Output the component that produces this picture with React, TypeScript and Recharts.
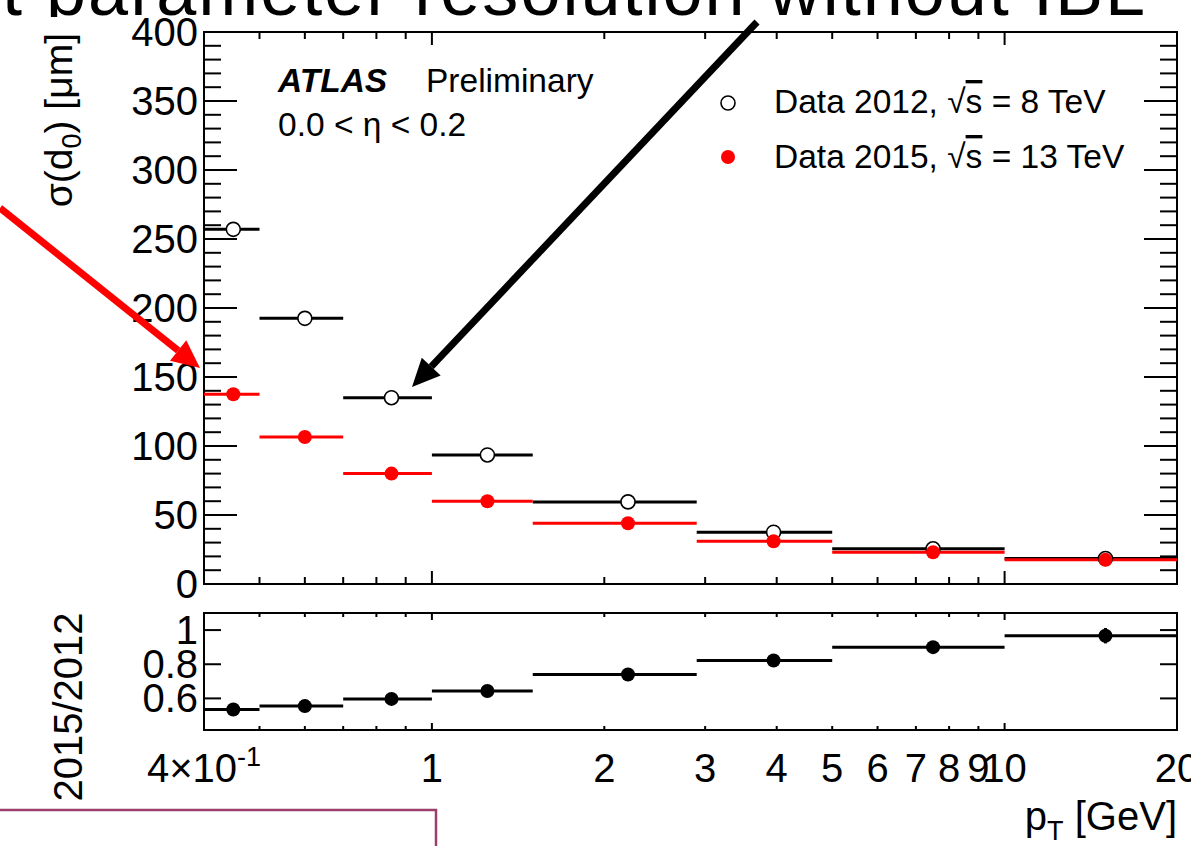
import React from 'react';
import { ComposedChart, Scatter, ErrorBar, XAxis, YAxis, ReferenceArea } from 'recharts';

// ---- data ----
const binLow = [0.4, 0.5, 0.7, 1.0, 1.5, 2.9, 5, 10];
const binHigh = [0.5, 0.7, 1.0, 1.5, 2.9, 5, 10, 20];
const sigma2012 = [257, 192.5, 135, 93.5, 59.5, 37.5, 25.5, 18.5];
const sigma2015 = [137.5, 106.5, 80, 60, 44, 31, 23, 17.5];
const ratio2015over2012 = [0.535, 0.555, 0.597, 0.643, 0.74, 0.822, 0.9, 0.967];
const ratioErr = [0.004, 0.004, 0.005, 0.006, 0.006, 0.01, 0.015, 0.045];

const xTicks = [0.4, 0.5, 0.6, 0.7, 0.8, 0.9, 1, 2, 3, 4, 5, 6, 7, 8, 9, 10, 20];
const xMajorTicks = [1, 10];
const xLabelTicks = [0.4, 1, 2, 3, 4, 5, 6, 7, 8, 9, 10, 20];
const yTicks = [0, 10, 20, 30, 40, 50, 60, 70, 80, 90, 100, 110, 120, 130, 140, 150, 160, 170, 180, 190, 200,
  210, 220, 230, 240, 250, 260, 270, 280, 290, 300, 310, 320, 330, 340, 350, 360, 370, 380, 390, 400];
const yLabelTicks = [0, 50, 100, 150, 200, 250, 300, 350, 400];
const ratioTicks = [0.6, 0.8, 1];
const ratioTickLabels = ['0.6', '0.8', '1'];

const legendLabels = ['Data 2012, ', 'Data 2015, '];
const legendEnergies = [' = 8 TeV', ' = 13 TeV'];

// ---- tables built from the arrays ----
const binCenter = binLow.map((lo, i) => (lo + binHigh[i]) / 2);
const binHalf = binLow.map((lo, i) => (binHigh[i] - lo) / 2);
const data2012 = binCenter.map((x, i) => ({ x, y: sigma2012[i], xErr: binHalf[i] }));
const data2015 = binCenter.map((x, i) => ({ x, y: sigma2015[i], xErr: binHalf[i] }));
const dataRatio = binCenter.map((x, i) => ({ x, y: ratio2015over2012[i], xErr: binHalf[i], yErr: ratioErr[i] }));

// ---- layout ----
const FONT = "'Liberation Sans', Arial, Helvetica, sans-serif";
const W = 1191;
const PL = 204;
const PR = 1177;
const MAIN_H = 600;
const MAIN_TOP = 32;
const MAIN_BOTTOM = 584;
const R_OFF = 590;
const R_H = 256;
const R_TOP = 613 - R_OFF;
const R_BOTTOM = 730 - R_OFF;
const TICK_FS = 40;
const TEXT_FS = 33.5;

const MainYTick = (props: any) => {
  const { y, payload } = props;
  const v = payload.value;
  const major = yLabelTicks.includes(v);
  const len = major ? 33 : 17;
  return (
    <g>
      <line x1={PL} x2={PL + len} y1={y} y2={y} stroke="#000" strokeWidth={2} />
      <line x1={PR} x2={PR - len} y1={y} y2={y} stroke="#000" strokeWidth={2} />
      {major && (
        <text x={PL - 6} y={y + 14} textAnchor="end" fontSize={TICK_FS} fontFamily={FONT} fill="#000">
          {v}
        </text>
      )}
    </g>
  );
};

const MainXTick = (props: any) => {
  const { x, payload } = props;
  const v = payload.value;
  if (v === 0.4 || v === 20) return <g />;
  const len = xMajorTicks.includes(v) ? 13 : 7;
  return (
    <g>
      <line x1={x} x2={x} y1={MAIN_BOTTOM} y2={MAIN_BOTTOM - len} stroke="#000" strokeWidth={2} />
      <line x1={x} x2={x} y1={MAIN_TOP} y2={MAIN_TOP + len} stroke="#000" strokeWidth={2} />
    </g>
  );
};

const RatioXTick = (props: any) => {
  const { x, payload } = props;
  const v = payload.value;
  const edge = v === 0.4 || v === 20;
  const len = xMajorTicks.includes(v) ? 7 : 4;
  const labelY = R_BOTTOM + 52;
  let label: any = null;
  if (xLabelTicks.includes(v)) {
    if (v === 0.4) {
      label = (
        <text x={x} y={labelY} textAnchor="middle" fontSize={TICK_FS} fontFamily={FONT} fill="#000">
          4×10<tspan dy={-16} fontSize={27}>-1</tspan>
        </text>
      );
    } else {
      label = (
        <text x={x} y={labelY} textAnchor="middle" fontSize={TICK_FS} fontFamily={FONT} fill="#000">
          {String(v)}
        </text>
      );
    }
  }
  return (
    <g>
      {!edge && <line x1={x} x2={x} y1={R_BOTTOM} y2={R_BOTTOM - len} stroke="#000" strokeWidth={2} />}
      {!edge && <line x1={x} x2={x} y1={R_TOP} y2={R_TOP + len} stroke="#000" strokeWidth={2} />}
      {label}
    </g>
  );
};

const RatioYTick = (props: any) => {
  const { y, payload } = props;
  const v = payload.value;
  const idx = ratioTicks.indexOf(v);
  return (
    <g>
      <line x1={PL} x2={PL + 17} y1={y} y2={y} stroke="#000" strokeWidth={2} />
      <line x1={PR} x2={PR - 17} y1={y} y2={y} stroke="#000" strokeWidth={2} />
      <text x={PL - 6} y={y + 14} textAnchor="end" fontSize={TICK_FS} fontFamily={FONT} fill="#000">
        {idx >= 0 ? ratioTickLabels[idx] : String(v)}
      </text>
    </g>
  );
};

const OpenCircle = (props: any) => (
  <circle cx={props.cx} cy={props.cy} r={7} fill="#fff" stroke="#000" strokeWidth={1.6} />
);
const RedDot = (props: any) => <circle cx={props.cx} cy={props.cy} r={7} fill="#ff0000" />;
const BlackDot = (props: any) => <circle cx={props.cx} cy={props.cy} r={7} fill="#000" />;

function arrowHead(sx: number, sy: number, tx: number, ty: number, L: number, w: number) {
  const dx = tx - sx;
  const dy = ty - sy;
  const d = Math.sqrt(dx * dx + dy * dy);
  const ux = dx / d;
  const uy = dy / d;
  const bx = tx - L * ux;
  const by = ty - L * uy;
  const nx = -uy;
  const ny = ux;
  return {
    base: [bx, by],
    points: `${tx},${ty} ${bx + w * nx},${by + w * ny} ${bx - w * nx},${by - w * ny}`,
  };
}

const Overlay = () => {
  const red = arrowHead(0, 208, 200, 368, 28, 13);
  const blk = arrowHead(757, 22, 412, 387, 28, 13);
  return (
    <svg
      width={W}
      height={846}
      style={{ position: 'absolute', left: 0, top: 0, pointerEvents: 'none' }}
    >
      <defs>
        <clipPath id="titleClip">
          <rect x={0} y={-100} width={W} height={117} />
        </clipPath>
      </defs>
      {/* slide title, partly hidden behind the plot image */}
      <g clipPath="url(#titleClip)">
        <text x={2} y={15} fontSize={72} fontFamily={FONT} fill="#000" textLength={1143} lengthAdjust="spacing">
          t parameter resolution without IBL
        </text>
      </g>

      {/* ATLAS label */}
      <text x={278} y={92} fontSize={TEXT_FS} fontFamily={FONT} fontWeight="bold" fontStyle="italic" fill="#000">
        ATLAS
      </text>
      <text x={426} y={92} fontSize={TEXT_FS} fontFamily={FONT} fill="#000">
        Preliminary
      </text>
      <text x={278} y={136} fontSize={TEXT_FS} fontFamily={FONT} fill="#000">
        0.0 &lt; η &lt; 0.2
      </text>

      {/* legend */}
      <circle cx={728} cy={103} r={7} fill="#fff" stroke="#000" strokeWidth={1.6} />
      <circle cx={728} cy={157} r={7} fill="#ff0000" />
      {[113, 168].map((by, i) => (
        <text key={i} x={774} y={by} fontSize={TEXT_FS} fontFamily={FONT} fill="#000">
          {legendLabels[i]}√<tspan style={{ textDecoration: 'overline' }}>s</tspan>
          {legendEnergies[i]}
        </text>
      ))}

      {/* axis titles */}
      <text
        transform="translate(72,33) rotate(-90)"
        textAnchor="end"
        fontSize={39}
        fontFamily={FONT}
        fill="#000"
      >
        σ(d<tspan dy={9} fontSize={27}>0</tspan>
        <tspan dy={-9}>) [μm]</tspan>
      </text>
      <text
        transform="translate(82,707) rotate(-90)"
        textAnchor="middle"
        fontSize={40}
        fontFamily={FONT}
        fill="#000"
      >
        2015/2012
      </text>
      <text x={1177} y={830} textAnchor="end" fontSize={40} fontFamily={FONT} fill="#000">
        p<tspan dy={10} fontSize={27}>T</tspan>
        <tspan dy={-10}> [GeV]</tspan>
      </text>

      {/* slide box */}
      <polyline points="0,810 436,810 436,846" fill="none" stroke="#9c3f6d" strokeWidth={2.5} />

      {/* arrows */}
      <line x1={0} y1={208} x2={red.base[0]} y2={red.base[1]} stroke="#ff0000" strokeWidth={7} />
      <polygon points={red.points} fill="#ff0000" />
      <line x1={757} y1={22} x2={blk.base[0]} y2={blk.base[1]} stroke="#000" strokeWidth={7} />
      <polygon points={blk.points} fill="#000" />
    </svg>
  );
};

export default function App() {
  return (
    <div style={{ position: 'absolute', left: 0, top: 0, width: W, height: 846, background: '#fff', overflow: 'hidden' }}>
      <div style={{ position: 'absolute', left: 0, top: 0 }}>
        <ComposedChart width={W} height={MAIN_H} margin={{ top: MAIN_TOP, right: W - PR, bottom: MAIN_H - MAIN_BOTTOM - 1, left: 0 }}>
          <XAxis
            type="number"
            dataKey="x"
            scale="log"
            domain={[0.4, 20]}
            allowDataOverflow
            ticks={xTicks}
            interval={0}
            height={1}
            axisLine={false}
            tickLine={false}
            tickSize={0}
            tickMargin={0}
            tick={MainXTick}
          />
          <YAxis
            type="number"
            dataKey="y"
            domain={[0, 400]}
            allowDataOverflow
            ticks={yTicks}
            interval={0}
            width={PL}
            axisLine={false}
            tickLine={false}
            tickSize={0}
            tickMargin={0}
            tick={MainYTick}
          />
          <ReferenceArea x1={0.4} x2={20} y1={0} y2={400} fill="none" fillOpacity={0} stroke="#000" strokeWidth={2} ifOverflow="visible" />
          <Scatter name="Data 2012" data={data2012} shape={OpenCircle} isAnimationActive={false}>
            <ErrorBar dataKey="xErr" direction="x" width={0} stroke="#000" strokeWidth={3} isAnimationActive={false} />
          </Scatter>
          <Scatter name="Data 2015" data={data2015} shape={RedDot} isAnimationActive={false}>
            <ErrorBar dataKey="xErr" direction="x" width={0} stroke="#ff0000" strokeWidth={3} isAnimationActive={false} />
          </Scatter>
        </ComposedChart>
      </div>
      <div style={{ position: 'absolute', left: 0, top: R_OFF }}>
        <ComposedChart width={W} height={R_H} margin={{ top: R_TOP, right: W - PR, bottom: R_H - R_BOTTOM - 1, left: 0 }}>
          <XAxis
            type="number"
            dataKey="x"
            scale="log"
            domain={[0.4, 20]}
            allowDataOverflow
            ticks={xTicks}
            interval={0}
            height={1}
            axisLine={false}
            tickLine={false}
            tickSize={0}
            tickMargin={0}
            tick={RatioXTick}
          />
          <YAxis
            type="number"
            dataKey="y"
            domain={[0.415, 1.1]}
            allowDataOverflow
            ticks={ratioTicks}
            interval={0}
            width={PL}
            axisLine={false}
            tickLine={false}
            tickSize={0}
            tickMargin={0}
            tick={RatioYTick}
          />
          <ReferenceArea x1={0.4} x2={20} y1={0.415} y2={1.1} fill="none" fillOpacity={0} stroke="#000" strokeWidth={2} ifOverflow="visible" />
          <Scatter name="2015/2012" data={dataRatio} shape={BlackDot} isAnimationActive={false}>
            <ErrorBar dataKey="xErr" direction="x" width={0} stroke="#000" strokeWidth={3} isAnimationActive={false} />
            <ErrorBar dataKey="yErr" direction="y" width={0} stroke="#000" strokeWidth={3} isAnimationActive={false} />
          </Scatter>
        </ComposedChart>
      </div>
      <Overlay />
    </div>
  );
}
